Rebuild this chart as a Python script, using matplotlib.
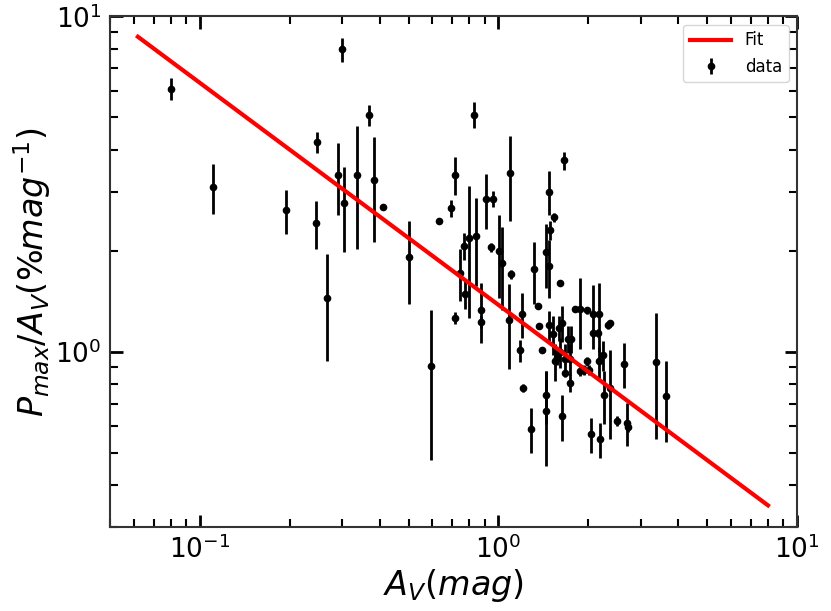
import matplotlib
matplotlib.use("Agg")
import matplotlib.pyplot as plt
import numpy as np

# Data
av = [0.080, 0.111, 0.194, 0.244, 0.246, 0.266, 0.290, 0.299, 0.304, 0.336,
      0.369, 0.384, 0.410, 0.503, 0.594, 0.634, 0.694, 0.716, 0.714, 0.746,
      0.769, 0.773, 0.794, 0.826, 0.844, 0.872, 0.872, 0.908, 0.945, 0.958,
      1.005, 1.031, 1.084, 1.090, 1.106, 1.183, 1.199, 1.213, 1.287, 1.318,
      1.355, 1.365, 1.398, 1.441, 1.441, 1.449, 1.475, 1.486, 1.475, 1.533,
      1.656, 1.609, 1.480, 1.521, 1.542, 1.570, 1.594, 1.636, 1.602, 1.665,
      1.674, 1.627, 1.708, 1.754, 1.740, 1.740, 1.799, 1.880, 1.880, 1.933,
      1.985, 1.985, 2.005, 2.072, 2.072, 2.040, 2.166, 2.155, 2.177, 2.183,
      2.245, 2.250, 2.327, 2.358, 2.363, 2.494, 2.642, 2.705, 2.710, 3.373,
      3.642]
pav = [6.09, 3.10, 2.64, 2.42, 4.22, 1.45, 3.37, 7.98, 2.77, 3.37,
       5.08, 3.25, 2.70, 1.92, 0.905, 2.46, 2.68, 3.37, 1.26, 1.72,
       2.07, 1.49, 2.19, 5.10, 2.22, 1.33, 1.23, 2.86, 2.05, 2.86,
       2.00, 1.84, 1.24, 3.42, 1.70, 1.01, 1.30, 0.78, 0.59, 1.76,
       1.37, 1.19, 1.01, 0.743, 0.666, 1.98, 3.00, 2.31, 1.80, 2.52,
       3.72, 1.60, 1.20, 1.13, 0.935, 0.96, 1.18, 1.22, 0.995, 0.951,
       0.863, 0.643, 1.09, 1.09, 0.951, 0.806, 1.34, 1.34, 0.877, 0.882,
       1.33, 0.935, 0.882, 1.30, 1.14, 0.567, 1.30, 1.14, 0.935, 0.548,
       0.977, 0.743, 1.20, 1.215, 0.779, 0.622, 0.919, 0.614, 0.598, 0.929,
       0.738]
pav_err = [0.47, 0.52, 0.40, 0.40, 0.30, 0.51, 0.82, 0.66, 0.79, 1.34,
           0.38, 1.13, 0.05, 0.535, 0.43, 0.03, 0.15, 0.43, 0.05, 0.30,
           0.19, 0.15, 0.93, 0.46, 0.65, 0.27, 0.05, 0.53, 0.06, 0.15,
           0.55, 0.51, 0.35, 0.97, 0.05, 0.076, 0.20, 0.02, 0.09, 0.37,
           0.02, 0.02, 0.02, 0.134, 0.21, 0.43, 0.45, 0.15, 0.35, 0.08,
           0.23, 0.02, 0.12, 0.15, 0.12, 0.05, 0.10, 0.15, 0.10, 0.10,
           0.02, 0.10, 0.10, 0.10, 0.10, 0.05, 0.02, 0.32, 0.03, 0.03,
           0.03, 0.03, 0.03, 0.28, 0.03, 0.068, 0.30, 0.03, 0.10, 0.066,
           0.10, 0.134, 0.03, 0.03, 0.23, 0.02, 0.14, 0.09, 0.02, 0.38,
           0.20]

fit_x = [0.062, 8.0]
fit_y = [8.7, 0.348]

fig = plt.figure(figsize=(8.31, 6.11), dpi=100)
ax = fig.add_axes([0.1324, 0.1375, 0.959 - 0.1324, 0.973 - 0.1375])

ax.plot(fit_x, fit_y, color='red', lw=3, label='Fit', zorder=3)
ax.errorbar(av, pav, yerr=pav_err, fmt='o', color='black', ms=4.5,
            elinewidth=2, capsize=0, label='data', zorder=2)

ax.set_xscale('log')
ax.set_yscale('log')
ax.set_xlim(0.05, 10)
ax.set_ylim(0.3, 10)

ax.set_xlabel(r'$A_V(mag)$', fontsize=24, labelpad=2)
ax.set_ylabel(r'$P_{max}/A_V(\%mag^{-1})$', fontsize=24, labelpad=2)

ax.tick_params(which='both', direction='in', top=True, right=True)
ax.tick_params(which='major', length=9, width=2, labelsize=19, pad=6)
ax.tick_params(which='minor', length=5.5, width=1.5)
for s in ax.spines.values():
    s.set_linewidth(1.5)
    s.set_color('#333333')

ax.legend(loc='upper right', fontsize=12, handlelength=2.5)

fig.savefig('out.png', dpi=100)
